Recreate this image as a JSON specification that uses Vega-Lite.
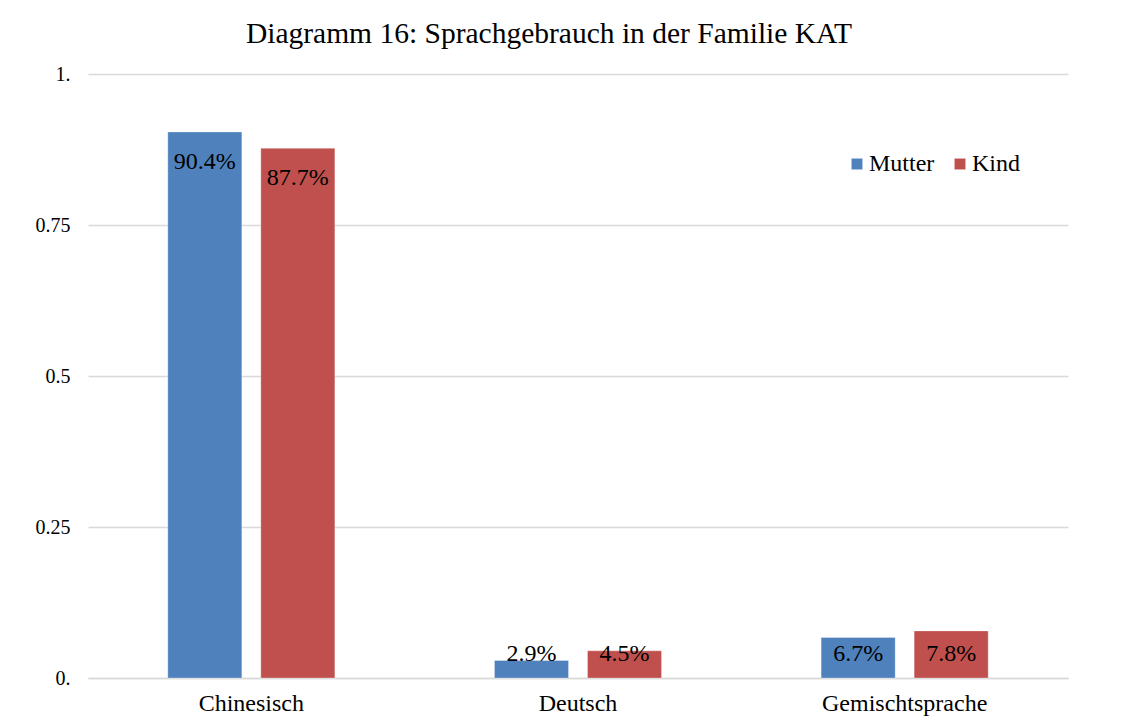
{
  "$schema": "https://vega.github.io/schema/vega-lite/v6.json",
  "width": 980,
  "height": 604,
  "autosize": {"type": "none"},
  "padding": {"left": 88, "top": 74, "right": 58, "bottom": 44},
  "background": "white",
  "config": {"view": {"stroke": null}},
  "title": {
    "text": "Diagramm 16: Sprachgebrauch in der Familie KAT",
    "font": "Liberation Serif",
    "fontSize": 29.5,
    "fontWeight": "normal",
    "color": "#000000",
    "anchor": "middle",
    "dx": -29,
    "offset": 15
  },
  "data": {
    "values": [
      {"Sprache": "Chinesisch", "Person": "Mutter", "Anteil": 0.904},
      {"Sprache": "Chinesisch", "Person": "Kind", "Anteil": 0.877},
      {"Sprache": "Deutsch", "Person": "Mutter", "Anteil": 0.029},
      {"Sprache": "Deutsch", "Person": "Kind", "Anteil": 0.045},
      {"Sprache": "Gemischtsprache", "Person": "Mutter", "Anteil": 0.067},
      {"Sprache": "Gemischtsprache", "Person": "Kind", "Anteil": 0.078}
    ]
  },
  "encoding": {
    "x": {
      "field": "Sprache",
      "type": "nominal",
      "sort": ["Chinesisch", "Deutsch", "Gemischtsprache"],
      "scale": {"paddingInner": 0, "paddingOuter": 0},
      "axis": {
        "title": null,
        "labelAngle": 0,
        "labelFont": "Liberation Serif",
        "labelFontSize": 24,
        "labelColor": "#000000",
        "labelPadding": 13,
        "ticks": false,
        "domainColor": "#d9d9d9",
        "domainWidth": 1.5,
        "grid": false
      }
    },
    "xOffset": {
      "field": "Person",
      "type": "nominal",
      "sort": ["Mutter", "Kind"],
      "scale": {"paddingInner": 0.204, "paddingOuter": 0.858}
    }
  },
  "layer": [
    {
      "mark": {"type": "bar", "stroke": "#ffffff", "strokeOpacity": 0.3, "strokeWidth": 1},
      "encoding": {
        "y": {
          "field": "Anteil",
          "type": "quantitative",
          "scale": {"domain": [0, 1], "nice": false},
          "axis": {
            "title": null,
            "values": [0, 0.25, 0.5, 0.75, 1],
            "format": ".2~f",
            "labelExpr": "datum.value == 1 ? '1.' : datum.value == 0 ? '0.' : datum.label",
            "labelFont": "Liberation Serif",
            "labelFontSize": 20,
            "labelColor": "#000000",
            "labelPadding": 18,
            "ticks": false,
            "domain": false,
            "gridColor": "#d9d9d9",
            "gridWidth": 1.5
          }
        },
        "color": {
          "field": "Person",
          "type": "nominal",
          "sort": ["Mutter", "Kind"],
          "scale": {"domain": ["Mutter", "Kind"], "range": ["#4f81bd", "#c0504d"]},
          "legend": {
            "title": null,
            "orient": "none",
            "legendX": 757,
            "legendY": 78,
            "direction": "horizontal",
            "symbolType": "square",
            "symbolSize": 120,
            "symbolStrokeWidth": 0,
            "labelFont": "Liberation Serif",
            "labelFontSize": 24,
            "labelColor": "#000000",
            "labelOffset": 0,
            "columnPadding": 13
          }
        }
      }
    },
    {
      "transform": [
        {"calculate": "max(datum.Anteil - 0.061, 0.028)", "as": "labelPos"},
        {"calculate": "format(datum.Anteil * 100, '.1f') + '%'", "as": "labelText"}
      ],
      "mark": {
        "type": "text",
        "font": "Liberation Serif",
        "fontSize": 24,
        "color": "#000000",
        "baseline": "alphabetic",
        "align": "center"
      },
      "encoding": {
        "y": {"field": "labelPos", "type": "quantitative"},
        "text": {"field": "labelText"}
      }
    }
  ]
}
